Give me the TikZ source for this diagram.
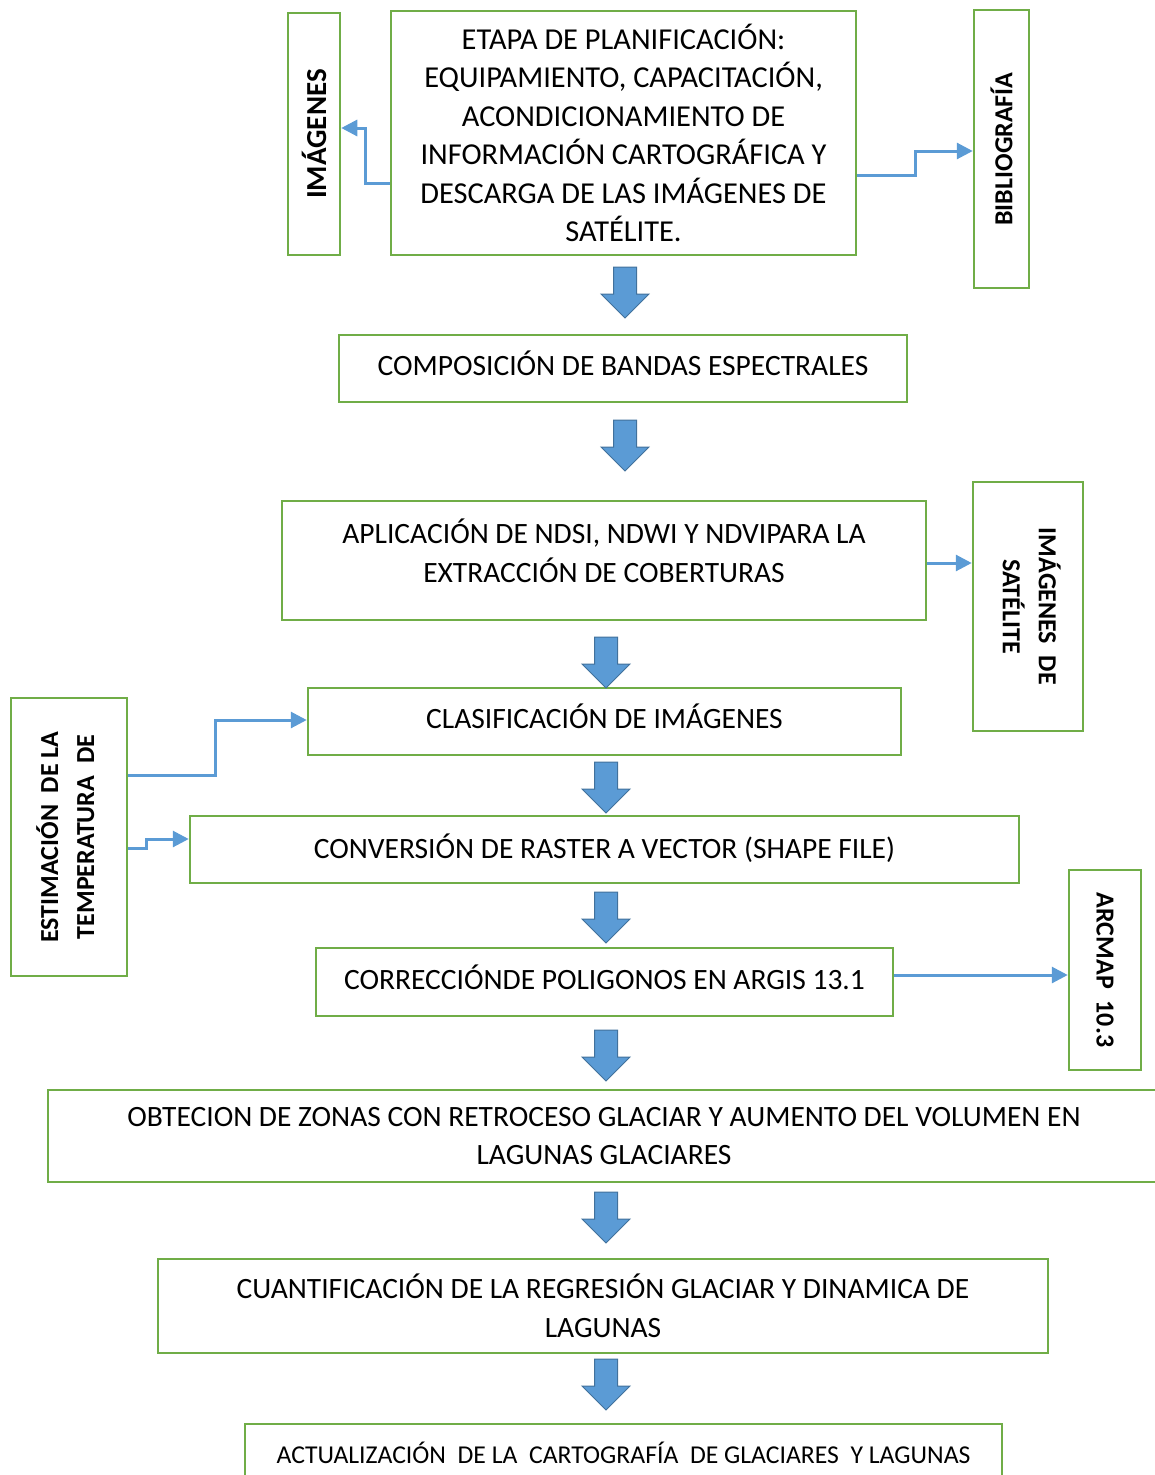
\documentclass[tikz,border=0pt]{standalone}
\usepackage{fontspec}
\usepackage{graphicx}
\setmainfont{Carlito}
\usetikzlibrary{arrows.meta}

\definecolor{boxgreen}{HTML}{70AD47}
\definecolor{linkblue}{HTML}{5B9BD5}
\definecolor{arrowedge}{HTML}{41719C}

\tikzset{
  box/.style={draw=boxgreen, line width=2.5pt, align=center, inner sep=0pt,
    font=\fontsize{29.5}{38.5}\selectfont},
  sidebox/.style={box, font=\fontsize{26}{36}\selectfont\bfseries},
  lift/.style={text depth=#1},
  link/.style={linkblue, line width=3pt, -{Triangle[length=16pt,width=16pt]}},
  bigarrow/.style={fill=linkblue, draw=arrowedge, line width=1pt},
}

\begin{document}
\begin{tikzpicture}[x=1pt,y=-1pt]
	\clip (0,0) rectangle (1155,1475);
	% main column
	\node[box, font=\fontsize{30.4}{38.5}\selectfont, minimum width=465, minimum height=244] (plan) at (623.5,133)
		{ETAPA DE PLANIFICACIÓN:\\EQUIPAMIENTO, CAPACITACIÓN,\\ACONDICIONAMIENTO DE\\INFORMACIÓN CARTOGRÁFICA Y\\DESCARGA DE LAS IMÁGENES DE\\SATÉLITE.};
	\node[box, lift=11pt, minimum width=568, minimum height=67] (comp) at (623,368.5) {COMPOSICIÓN DE BANDAS ESPECTRALES};
	\node[box, lift=20pt, minimum width=644, minimum height=119] (apl) at (604,560.5)
		{APLICACIÓN DE NDSI, NDWI Y NDVIPARA LA\\EXTRACCIÓN DE COBERTURAS};
	\node[box, lift=10pt, minimum width=593, minimum height=67] (clas) at (604.5,721.5) {CLASIFICACIÓN DE IMÁGENES};
	\node[box, lift=6pt, minimum width=829, minimum height=67] (conv) at (604.5,849.5) {CONVERSIÓN DE RASTER A VECTOR (SHAPE FILE)};
	\node[box, lift=10pt, minimum width=577, minimum height=68] (corr) at (604.5,982) {CORRECCIÓNDE POLIGONOS EN ARGIS 13.1};
	\node[box, minimum width=1112, minimum height=92] (obt) at (604,1136)
		{OBTECION DE ZONAS CON RETROCESO GLACIAR Y AUMENTO DEL VOLUMEN EN\\LAGUNAS GLACIARES};
	\node[box, minimum width=890, minimum height=94] (cuan) at (603,1306)
		{CUANTIFICACIÓN DE LA REGRESIÓN GLACIAR Y DINAMICA DE\\LAGUNAS};
	\node[box, lift=8pt, font=\fontsize{25.7}{38.5}\selectfont, minimum width=757, minimum height=66] (act) at (623.5,1457)
		{ACTUALIZACIÓN\ \ DE LA\ \ CARTOGRAFÍA\ \ DE GLACIARES\ \ Y LAGUNAS};
	% side boxes
	\node[sidebox, font=\fontsize{29}{36}\selectfont\bfseries, minimum width=52, minimum height=242] (img) at (314,134)
		{\rotatebox{90}{IMÁGENES}};
	\node[sidebox, minimum width=55, minimum height=278] (bib) at (1001.5,149)
		{\rotatebox{90}{BIBLIOGRAFÍA}};
	\node[sidebox, minimum width=110, minimum height=249] (sat) at (1028,606.5)
		{\rotatebox{-90}{\begin{tabular}{@{}c@{}}IMÁGENES\ \ DE\\SATÉLITE\end{tabular}}};
	\node[sidebox, minimum width=72, minimum height=200] (arc) at (1105,970)
		{\rotatebox{-90}{ARCMAP\ \ 10.3}};
	\node[sidebox, minimum width=116, minimum height=278] (est) at (69,837)
		{\rotatebox{90}{\begin{tabular}{@{}c@{}}ESTIMACIÓN\ \ DE LA\\TEMPERATURA\ \ DE\end{tabular}}};
	% block arrows
	\foreach \cx/\ty in {625/267, 625/420, 606/637, 606/762, 606/892, 606/1030, 606/1192, 606/1359}
		\draw[bigarrow] (\cx-11.5,\ty) -- (\cx+11.5,\ty) -- (\cx+11.5,\ty+27) -- (\cx+24,\ty+27)
			-- (\cx,\ty+51) -- (\cx-24,\ty+27) -- (\cx-11.5,\ty+27) -- cycle;
	% links
	\draw[link] (plan.west |- 0,183) -| (365,128) -- (img.east |- 0,128);
	\draw[link] (plan.east |- 0,175) -| (915,151) -- (bib.west |- 0,151);
	\draw[link] (apl.east |- 0,563) -- (sat.west |- 0,563);
	\draw[link] (est.east |- 0,775) -| (215,720) -- (clas.west |- 0,720);
	\draw[link] (est.east |- 0,848) -| (146,839) -- (conv.west |- 0,839);
	\draw[link] (corr.east |- 0,975) -- (arc.west |- 0,975);
\end{tikzpicture}
\end{document}
